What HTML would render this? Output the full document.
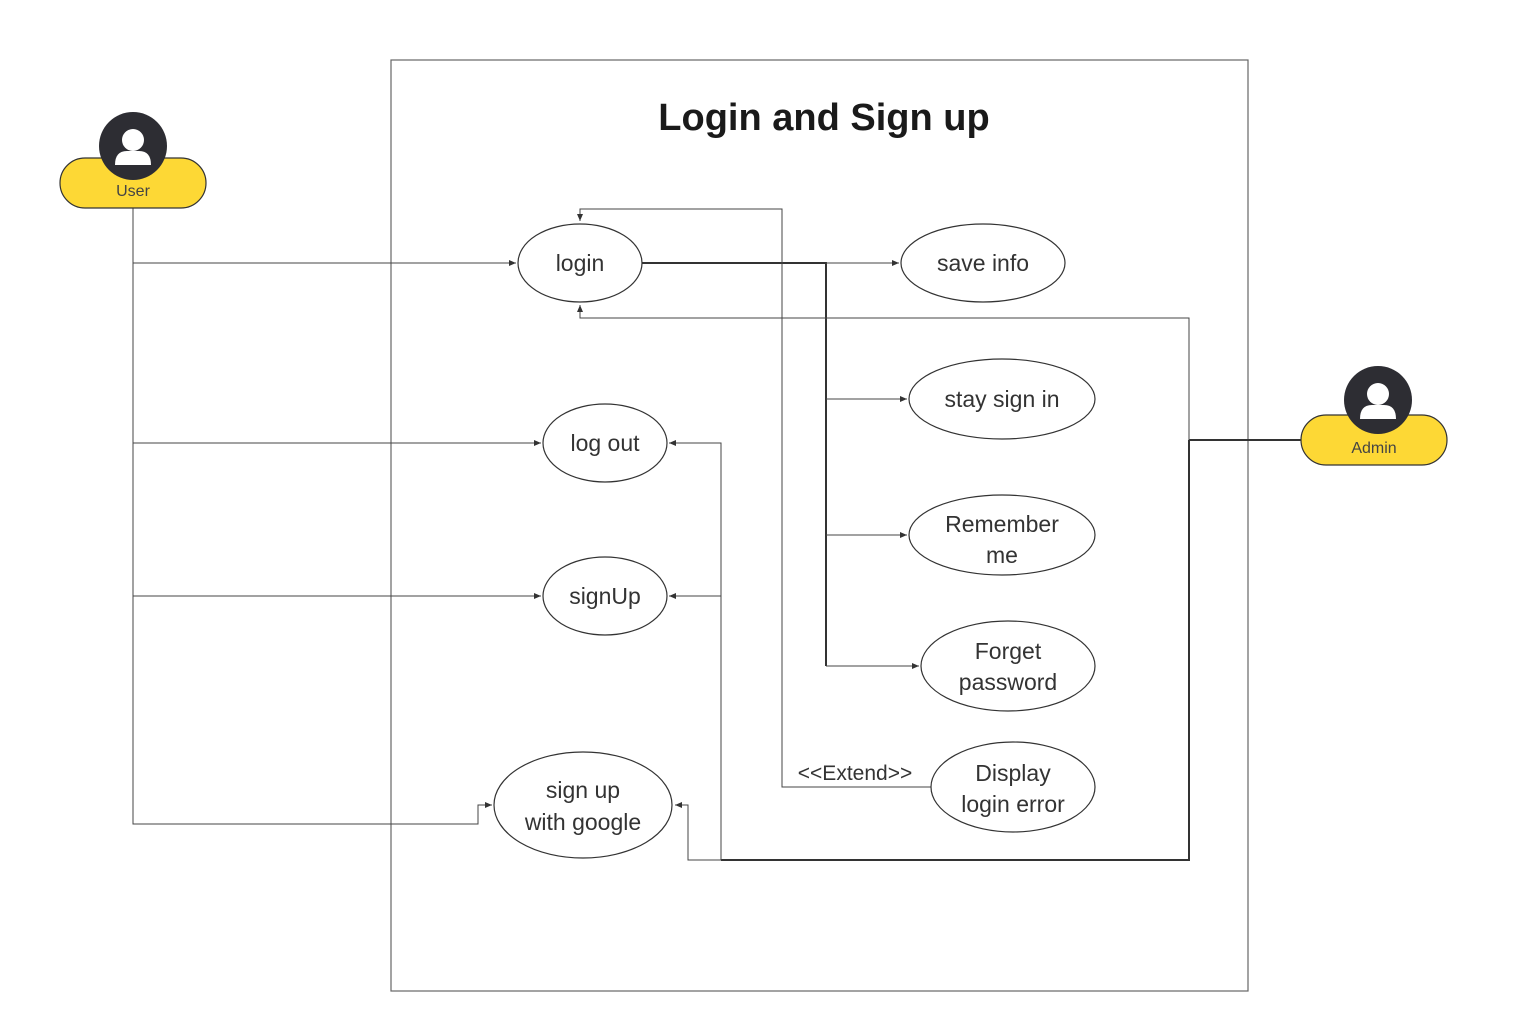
<!DOCTYPE html>
<html><head><meta charset="utf-8"><style>
html,body{margin:0;padding:0;background:#fff;}
svg{display:block;}
text{font-family:"Liberation Sans",sans-serif;}
</style></head><body>
<svg width="1524" height="1025" viewBox="0 0 1524 1025" xmlns="http://www.w3.org/2000/svg">
<defs>
<marker id="a" markerWidth="8" markerHeight="8" refX="7" refY="4" orient="auto" markerUnits="userSpaceOnUse">
<path d="M0,1 L7,4 L0,7 Z" fill="#333"/></marker>
</defs>
<rect x="391" y="60" width="857" height="931" fill="none" stroke="#666" stroke-width="1.2"/>
<text x="824" y="130" text-anchor="middle" font-size="38" font-weight="bold" fill="#1a1a1a">Login and Sign up</text>

<g fill="none" stroke="#444" stroke-width="1">
<path d="M133,208 V824 H478 V805 H492" marker-end="url(#a)"/>
<path d="M133,263 H516" marker-end="url(#a)"/>
<path d="M133,443 H541" marker-end="url(#a)"/>
<path d="M133,596 H541" marker-end="url(#a)"/>
<path d="M642,263 H826 V666" stroke="#333" stroke-width="2"/>
<path d="M826,263 H899" marker-end="url(#a)"/>
<path d="M826,399 H907" marker-end="url(#a)"/>
<path d="M826,535 H907" marker-end="url(#a)"/>
<path d="M826,666 H919" marker-end="url(#a)"/>
<path d="M931,787 H782 V209 H580 V221" marker-end="url(#a)"/>
<path d="M1301,440 H1189" stroke="#333" stroke-width="2"/>
<path d="M1189,440 V318 H580 V305" marker-end="url(#a)"/>
<path d="M1189,440 V860 H721" stroke="#333" stroke-width="2"/>
<path d="M721,860 H688 V805 H675" marker-end="url(#a)"/>
<path d="M721,860 V443 H669" marker-end="url(#a)"/>
<path d="M721,596 H669" marker-end="url(#a)"/>
</g>

<g fill="#fff" stroke="#333" stroke-width="1.2">
<ellipse cx="580" cy="263" rx="62" ry="39"/>
<ellipse cx="983" cy="263" rx="82" ry="39"/>
<ellipse cx="1002" cy="399" rx="93" ry="40"/>
<ellipse cx="1002" cy="535" rx="93" ry="40"/>
<ellipse cx="1008" cy="666" rx="87" ry="45"/>
<ellipse cx="1013" cy="787" rx="82" ry="45"/>
<ellipse cx="605" cy="443" rx="62" ry="39"/>
<ellipse cx="605" cy="596" rx="62" ry="39"/>
<ellipse cx="583" cy="805" rx="89" ry="53"/>
</g>
<g font-size="23" fill="#333" text-anchor="middle">
<text x="580" y="271">login</text>
<text x="983" y="271">save info</text>
<text x="1002" y="407">stay sign in</text>
<text x="1002" y="532">Remember</text><text x="1002" y="563">me</text>
<text x="1008" y="659">Forget</text><text x="1008" y="690">password</text>
<text x="1013" y="781">Display</text><text x="1013" y="812">login error</text>
<text x="605" y="451">log out</text>
<text x="605" y="604">signUp</text>
<text x="583" y="798">sign up</text><text x="583" y="830">with google</text>
<text x="855" y="780" font-size="21">&lt;&lt;Extend&gt;&gt;</text>
</g>

<g>
<rect x="60" y="158" width="146" height="50" rx="25" fill="#fdd835" stroke="#333" stroke-width="1.2"/>
<circle cx="133" cy="146" r="34" fill="#2d2d33"/>
<circle cx="133" cy="140" r="11" fill="#fff"/>
<path d="M115,165 Q115,151 127,151 H139 Q151,151 151,165 Z" fill="#fff"/>
<text x="133" y="196" text-anchor="middle" font-size="16" fill="#444">User</text>
</g>
<g>
<rect x="1301" y="415" width="146" height="50" rx="25" fill="#fdd835" stroke="#333" stroke-width="1.2"/>
<circle cx="1378" cy="400" r="34" fill="#2d2d33"/>
<circle cx="1378" cy="394" r="11" fill="#fff"/>
<path d="M1360,419 Q1360,405 1372,405 H1384 Q1396,405 1396,419 Z" fill="#fff"/>
<text x="1374" y="453" text-anchor="middle" font-size="16" fill="#444">Admin</text>
</g>
</svg>
</body></html>
